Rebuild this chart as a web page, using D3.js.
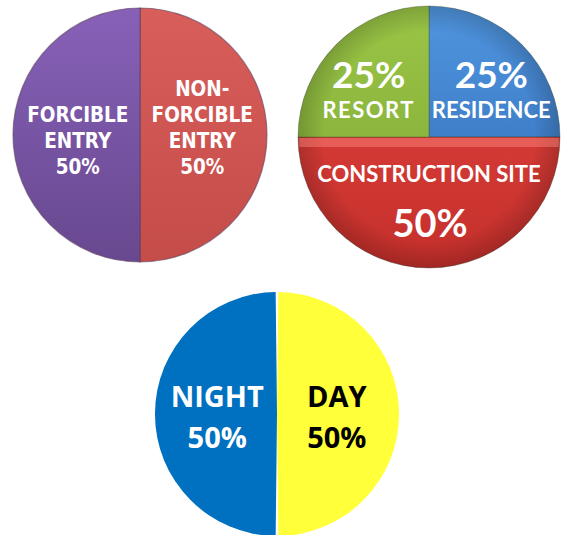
<!DOCTYPE html>
<html>
<head>
<meta charset="utf-8">
<script src="https://cdn.jsdelivr.net/npm/d3@7"></script>
<style>
  html, body { margin: 0; padding: 0; background: #ffffff; }
  svg { display: block; }
</style>
</head>
<body>
<svg id="chart" width="565" height="535"></svg>
<script>
// ---- Data ----
const entryLabels = ["NON-\nFORCIBLE\nENTRY", "FORCIBLE\nENTRY"];
const entryValues = [50, 50];
const entryColors = [["#d85e5a", "#c44c49"], ["#8761b8", "#68488f"]];

const locationLabels = ["RESIDENCE", "CONSTRUCTION SITE", "RESORT"];
const locationValues = [25, 50, 25];
const locationColors = [["#5096e0", "#2f68b4"], ["#e4453f", "#c42f2b"], ["#9ac646", "#7da534"]];

const timeLabels = ["DAY", "NIGHT"];
const timeValues = [50, 50];
const timeColors = ["#ffff3a", "#0070c0"];
const timeTextColors = ["#000000", "#ffffff"];

const svg = d3.select("#chart");
const defs = svg.append("defs");

function pct(v, total) { return Math.round(v / total * 100) + "%"; }

function vGrad(id, cy, r, c0, c1) {
  const g = defs.append("linearGradient").attr("id", id)
    .attr("gradientUnits", "userSpaceOnUse")
    .attr("x1", 0).attr("x2", 0).attr("y1", cy - r).attr("y2", cy + r);
  g.append("stop").attr("offset", "0%").attr("stop-color", c0);
  g.append("stop").attr("offset", "100%").attr("stop-color", c1);
  return "url(#" + id + ")";
}

// ---- Pie 1: Forcible / Non-forcible ----
(function () {
  const cx = 140, cy = 135, r = 127;
  const total = d3.sum(entryValues);
  const arcs = d3.pie().sort(null)(entryValues);
  const arc = d3.arc().innerRadius(0).outerRadius(r);
  const labelArc = d3.arc().innerRadius(r * 0.49).outerRadius(r * 0.49);
  const g = svg.append("g").attr("transform", `translate(${cx},${cy})`);
  g.selectAll("path").data(arcs).join("path")
    .attr("d", arc)
    .attr("fill", (d, i) => vGrad("e" + i, 0, r, entryColors[i][0], entryColors[i][1]))
    .attr("stroke", "#5b3f5f").attr("stroke-width", 1.2).attr("stroke-opacity", 0.6);
  arcs.forEach((d, i) => {
    const [x] = labelArc.centroid(d);
    const lines = entryLabels[i].split("\n").concat([pct(d.data, total)]);
    const lh = 26, lastBase = 39;
    const t = g.append("text")
      .attr("text-anchor", "middle")
      .attr("fill", "#ffffff")
      .style("font-family", "'DejaVu Sans Condensed', 'DejaVu Sans', sans-serif")
      .style("font-weight", "bold")
      .style("font-size", "20.5px");
    lines.forEach((ln, k) => {
      t.append("tspan").attr("x", x)
        .attr("y", lastBase - (lines.length - 1 - k) * lh)
        .text(ln);
    });
  });
})();

// ---- Pie 2: Location ----
(function () {
  const cx = 429, cy = 137, r = 131;
  const total = d3.sum(locationValues);
  const arcs = d3.pie().sort(null)(locationValues);
  const arc = d3.arc().innerRadius(0).outerRadius(r);
  const labelArc = d3.arc().innerRadius(r * 0.64).outerRadius(r * 0.64);
  const g = svg.append("g").attr("transform", `translate(${cx},${cy})`);
  g.selectAll("path.slice").data(arcs).join("path").attr("class", "slice")
    .attr("d", arc)
    .attr("fill", (d, i) => vGrad("l" + i, 0, r, locationColors[i][0], locationColors[i][1]))
    .attr("stroke", "#3a4a30").attr("stroke-width", 1).attr("stroke-opacity", 0.35);
  const sh = defs.append("radialGradient").attr("id", "shade2")
    .attr("gradientUnits", "userSpaceOnUse").attr("cx", 0).attr("cy", 0).attr("r", r);
  sh.append("stop").attr("offset", "80%").attr("stop-color", "#000").attr("stop-opacity", 0);
  sh.append("stop").attr("offset", "100%").attr("stop-color", "#000").attr("stop-opacity", 0.18);
  g.append("circle").attr("r", r).attr("fill", "url(#shade2)");
  const bev = d3.arc().innerRadius(0).outerRadius(r - 1);
  const bottom = arcs[1];
  g.append("clipPath").attr("id", "clipBottom").append("path").attr("d", bev(bottom));
  g.append("rect").attr("clip-path", "url(#clipBottom)")
    .attr("x", -r).attr("y", 1).attr("width", 2 * r).attr("height", 9)
    .attr("fill", "#ff8a80").attr("opacity", 0.45);

  arcs.forEach((d, i) => {
    const [x] = labelArc.centroid(d);
    const txt = g.append("text").attr("text-anchor", "middle").attr("fill", "#ffffff")
      .style("font-family", "Lato, 'Open Sans', sans-serif").style("font-weight", "bold");
    if (i === 1) {
      txt.append("tspan").attr("x", 0).attr("y", 45).style("font-size", "22px").text(locationLabels[i]);
      txt.append("tspan").attr("x", 1).attr("y", 100).style("font-size", "38px").text(pct(d.data, total));
    } else {
      const xx = x * 0.95 + (i === 0 ? 6 : -4);
      txt.append("tspan").attr("x", xx).attr("y", -49).style("font-size", "37px").text(pct(d.data, total));
      txt.append("tspan").attr("x", xx).attr("y", -19).style("font-size", "22px")
        .style("letter-spacing", i === 2 ? "1.5px" : "0px").text(locationLabels[i]);
    }
  });
})();

// ---- Pie 3: Day / Night ----
(function () {
  const cx = 277, cy = 414, r = 122;
  const total = d3.sum(timeValues);
  const arcs = d3.pie().sort(null)(timeValues);
  const arc = d3.arc().innerRadius(0).outerRadius(r).padAngle(0.022);
  const labelArc = d3.arc().innerRadius(r * 0.49).outerRadius(r * 0.49);
  const g = svg.append("g").attr("transform", `translate(${cx},${cy})`);
  g.selectAll("path").data(arcs).join("path")
    .attr("d", arc)
    .attr("fill", (d, i) => timeColors[i]);
  arcs.forEach((d, i) => {
    const [x] = labelArc.centroid(d);
    const t = g.append("text").attr("text-anchor", "middle")
      .attr("fill", timeTextColors[i])
      .style("font-family", "'Open Sans', 'Noto Sans', sans-serif")
      .style("font-weight", "bold").style("font-size", "29px");
    t.append("tspan").attr("x", x).attr("y", -7).text(timeLabels[i]);
    t.append("tspan").attr("x", x).attr("y", 34).text(pct(d.data, total));
  });
})();
</script>
</body>
</html>
